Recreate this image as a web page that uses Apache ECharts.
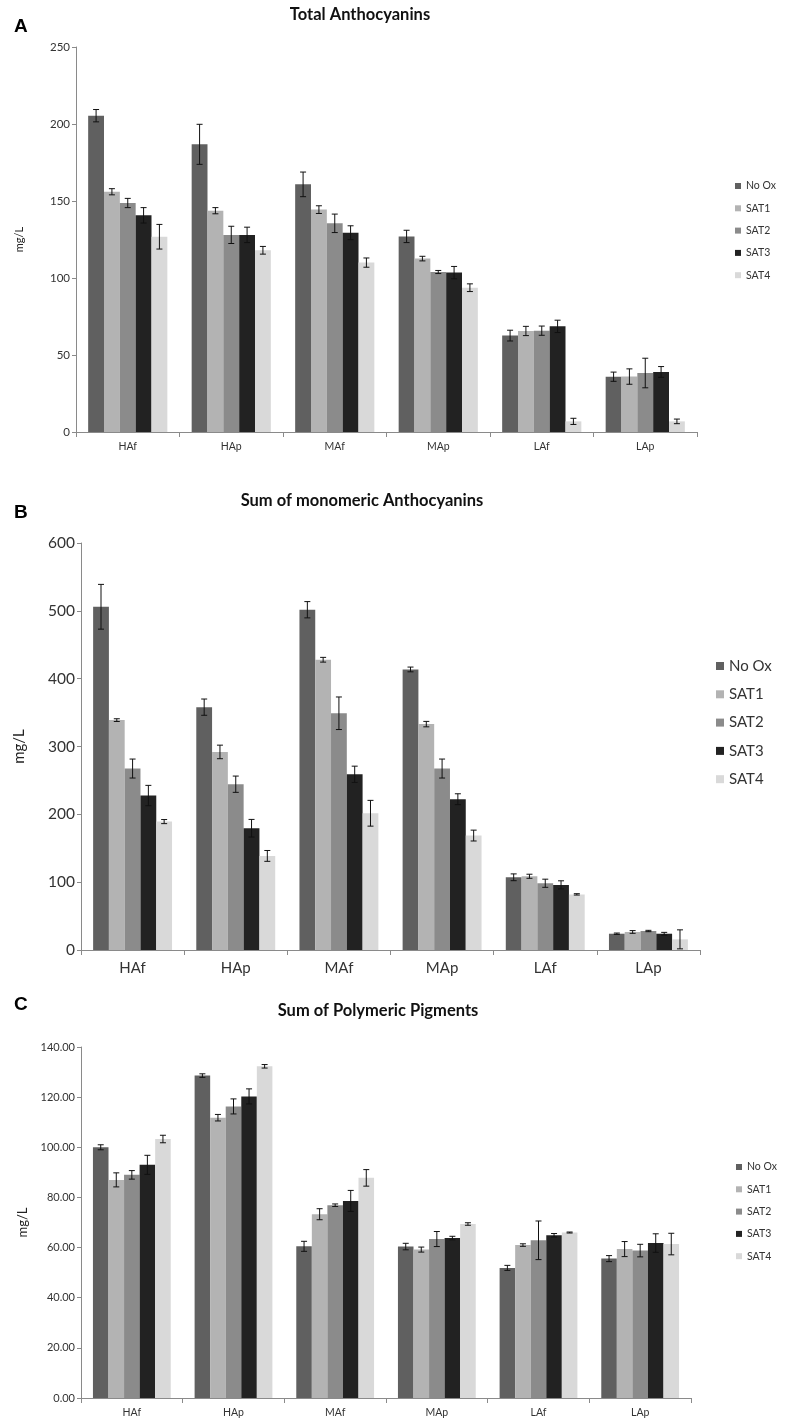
<!DOCTYPE html>
<html>
<head>
<meta charset="utf-8">
<script src="https://cdn.jsdelivr.net/npm/echarts@6/dist/echarts.min.js"></script>
<style>
html,body{margin:0;padding:0;background:#fff;}
#chart{width:787px;height:1426px;}
</style>
</head>
<body>
<div id="chart"></div>
<script>
// ---------- DATA ----------
var categories = ['HAf', 'HAp', 'MAf', 'MAp', 'LAf', 'LAp'];
var seriesNames = ['No Ox', 'SAT1', 'SAT2', 'SAT3', 'SAT4'];

// Panel A: Total Anthocyanins (mg/L), rows = seriesNames
var totalMeans = [
  [205.4, 186.8, 160.8, 127.0, 62.6, 35.9],
  [156.0, 143.7, 144.4, 112.6, 65.6, 36.0],
  [148.7, 128.0, 135.5, 103.9, 65.8, 38.3],
  [140.7, 128.0, 129.4, 103.5, 68.6, 39.0],
  [126.8, 118.0, 110.0, 93.7, 6.9, 6.9]
];
var totalErrors = [
  [4.0, 13.0, 8.0, 4.0, 3.5, 3.0],
  [2.0, 2.0, 2.5, 1.5, 3.0, 5.0],
  [3.0, 5.6, 6.0, 1.0, 3.0, 9.6],
  [5.0, 5.0, 4.5, 4.0, 4.0, 3.5],
  [8.0, 2.5, 3.0, 2.5, 2.0, 1.5]
];

// Panel B: Sum of monomeric Anthocyanins (mg/L)
var monoMeans = [
  [506.0, 358.0, 501.6, 413.6, 107.2, 24.0],
  [338.9, 292.0, 427.9, 333.0, 108.7, 26.6],
  [267.5, 244.4, 349.0, 267.5, 98.4, 28.0],
  [227.7, 179.5, 259.0, 222.3, 96.0, 24.0],
  [189.3, 138.7, 201.6, 168.7, 82.0, 15.7]
];
var monoErrors = [
  [33.0, 12.0, 12.0, 3.5, 5.0, 1.0],
  [2.0, 10.0, 3.5, 4.0, 3.0, 2.0],
  [14.0, 12.0, 24.0, 14.0, 6.0, 1.0],
  [15.0, 13.0, 12.0, 8.0, 6.0, 2.0],
  [3.0, 8.0, 19.0, 8.0, 1.0, 14.0]
];

// Panel C: Sum of Polymeric Pigments (mg/L)
var polyMeans = [
  [100.0, 128.6, 60.5, 60.4, 51.9, 55.6],
  [87.0, 111.8, 73.3, 59.2, 61.0, 59.4],
  [89.0, 116.3, 76.9, 63.4, 62.9, 58.8],
  [93.0, 120.3, 78.6, 63.8, 64.9, 61.8],
  [103.3, 132.3, 87.8, 69.4, 66.0, 61.4]
];
var polyErrors = [
  [1.0, 0.7, 2.0, 1.3, 1.0, 1.2],
  [2.8, 1.3, 2.2, 1.0, 0.5, 3.0],
  [1.7, 3.0, 0.5, 3.0, 7.7, 2.5],
  [3.8, 3.0, 4.2, 0.7, 0.7, 3.7],
  [1.5, 0.7, 3.3, 0.5, 0.2, 4.3]
];

var panelTitles = ['Total Anthocyanins', 'Sum of monomeric Anthocyanins', 'Sum of Polymeric Pigments'];
var panelLetters = ['A', 'B', 'C'];
var yTicksA = {min: 0, max: 250, interval: 50};
var yTicksB = {min: 0, max: 600, interval: 100};
var yTicksC = {min: 0, max: 140, interval: 20};

// ---------- STYLE ----------
var colors = ['#606060', '#b3b3b3', '#8b8b8b', '#222222', '#d9d9d9'];
var FONT = 'Lato, "Open Sans", sans-serif';
var GAP = 0.235;

var panels = [
  {means: totalMeans, errs: totalErrors, ticks: yTicksA,
   grid: {left: 76, top: 47, width: 621, height: 385},
   tickFont: 11.5, xFont: 10.5, nameGap: 51, nameFont: 11, fmt: function (v) { return v; },
   legend: {left: 730, top: 175, icon: 6, font: 10.5, lh: 12, gap: 10.3},
   title: {x: 360, y: 15, size: 16.5}, letter: {x: 14, y: 27}},
  {means: monoMeans, errs: monoErrors, ticks: yTicksB,
   grid: {left: 81, top: 543, width: 619, height: 407},
   tickFont: 15.5, xFont: 15, nameGap: 54, nameFont: 15, fmt: function (v) { return v; },
   legend: {left: 711, top: 652, icon: 8, font: 15, lh: 18, gap: 10.3},
   title: {x: 362, y: 501, size: 16.5}, letter: {x: 14, y: 513}},
  {means: polyMeans, errs: polyErrors, ticks: yTicksC,
   grid: {left: 81, top: 1047, width: 610, height: 351},
   tickFont: 11, xFont: 10.5, nameGap: 48, nameFont: 13, fmt: function (v) { return v.toFixed(2); },
   legend: {left: 731, top: 1156, icon: 6, font: 10.5, lh: 12, gap: 10.3},
   title: {x: 378, y: 1011, size: 16.5}, letter: {x: 14, y: 1005}}
];

var option = {
  animation: false,
  backgroundColor: '#ffffff',
  textStyle: {fontFamily: FONT},
  grid: [], xAxis: [], yAxis: [], legend: [], series: [], graphic: []
};

panels.forEach(function (p, pi) {
  option.grid.push(p.grid);
  option.xAxis.push({
    type: 'category', gridIndex: pi, data: categories,
    axisLine: {lineStyle: {color: '#8a8a8a', width: 1}},
    axisTick: {show: true, alignWithLabel: false, length: 5, lineStyle: {color: '#8a8a8a'}},
    axisLabel: {color: '#333', fontSize: p.xFont, fontFamily: FONT, margin: pi === 1 ? 11 : 9},
    splitLine: {show: false}
  });
  option.yAxis.push({
    type: 'value', gridIndex: pi, min: p.ticks.min, max: p.ticks.max, interval: p.ticks.interval,
    name: 'mg/L', nameLocation: 'middle', nameRotate: 90, nameGap: p.nameGap,
    nameTextStyle: {color: '#222', fontSize: p.nameFont, fontFamily: FONT},
    axisLine: {show: true, lineStyle: {color: '#8a8a8a', width: 1}},
    axisTick: {show: true, length: 4, lineStyle: {color: '#8a8a8a'}},
    axisLabel: {color: '#333', fontSize: p.tickFont, fontFamily: FONT, margin: 6, formatter: p.fmt},
    splitLine: {show: false}
  });
  option.legend.push({
    orient: 'vertical', left: p.legend.left, top: p.legend.top,
    data: seriesNames, icon: 'rect',
    itemWidth: p.legend.icon, itemHeight: p.legend.icon, itemGap: p.legend.gap,
    selectedMode: false,
    textStyle: {color: '#333', fontSize: p.legend.font, lineHeight: p.legend.lh, fontFamily: FONT}
  });
  seriesNames.forEach(function (name, si) {
    option.series.push({
      type: 'bar', name: name, xAxisIndex: pi, yAxisIndex: pi,
      data: p.means[si], barGap: 0, barCategoryGap: (GAP * 100) + '%',
      itemStyle: {color: colors[si]},
      emphasis: {disabled: true}
    });
  });
  var errData = [];
  seriesNames.forEach(function (name, si) {
    categories.forEach(function (c, ci) {
      errData.push([ci, si, p.means[si][ci], p.errs[si][ci]]);
    });
  });
  option.series.push({
    type: 'custom', name: 'err' + pi, xAxisIndex: pi, yAxisIndex: pi,
    data: errData, encode: {x: 0, y: 2}, z: 10, silent: true,
    renderItem: function (params, api) {
      var ci = api.value(0), si = api.value(1), v = api.value(2), e = api.value(3);
      var band = api.size([1, 0])[0];
      var bw = band * (1 - GAP) / 5;
      var cx = api.coord([ci, v])[0] + (si - 2) * bw;
      var yTop = api.coord([ci, v + e])[1];
      var yBot = api.coord([ci, v - e])[1];
      var cap = 3;
      var st = {stroke: '#111', lineWidth: 1};
      return {type: 'group', children: [
        {type: 'line', shape: {x1: cx, y1: yTop, x2: cx, y2: yBot}, style: st},
        {type: 'line', shape: {x1: cx - cap, y1: yTop, x2: cx + cap, y2: yTop}, style: st},
        {type: 'line', shape: {x1: cx - cap, y1: yBot, x2: cx + cap, y2: yBot}, style: st}
      ]};
    }
  });
  option.graphic.push({
    type: 'text', x: p.title.x, y: p.title.y,
    style: {text: panelTitles[pi], textAlign: 'center', textVerticalAlign: 'middle',
      font: 'bold ' + p.title.size + 'px ' + FONT, fill: '#111'}
  });
  option.graphic.push({
    type: 'text', x: p.letter.x, y: p.letter.y,
    style: {text: panelLetters[pi], textAlign: 'left', textVerticalAlign: 'middle',
      font: 'bold 19px Arial, "Liberation Sans", sans-serif', fill: '#000'}
  });
});

var chart = echarts.init(document.getElementById('chart'), null, {renderer: 'canvas'});
chart.setOption(option);
</script>
</body>
</html>
